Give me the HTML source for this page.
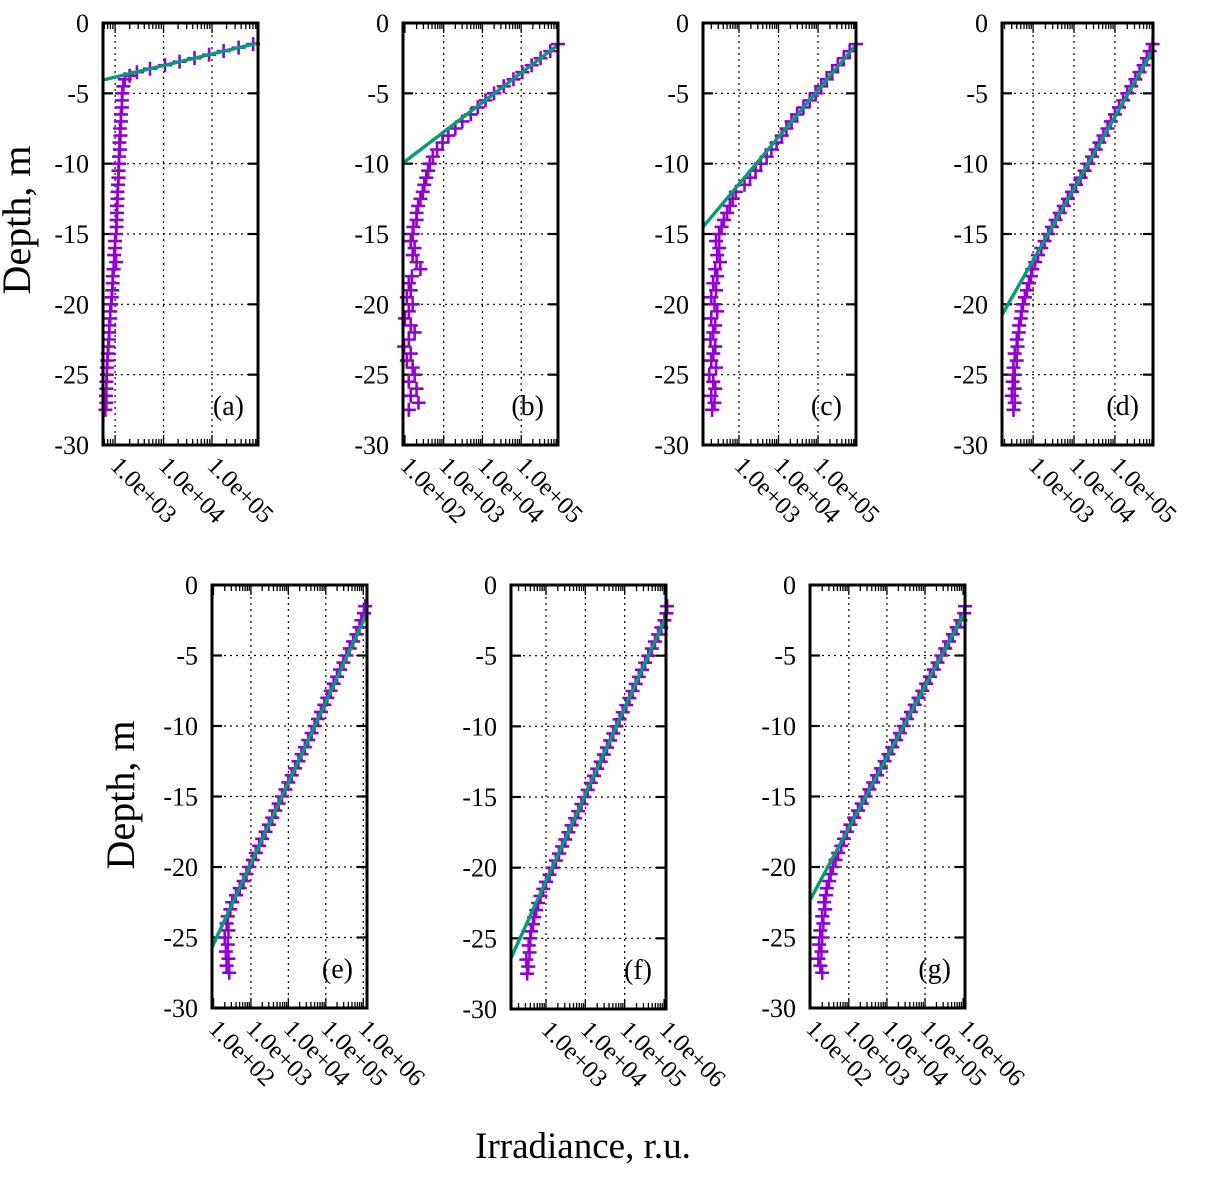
<!DOCTYPE html>
<html><head><meta charset="utf-8"><style>
html,body{margin:0;padding:0;background:#fff}
svg{display:block;font-family:"Liberation Serif",serif}
</style></head><body>
<svg id="chart" width="1207" height="1181" viewBox="0 0 1207 1181" xmlns="http://www.w3.org/2000/svg">
<text x="0" y="0" transform="translate(30,220) rotate(-90)" text-anchor="middle" font-size="40">Depth, m</text>
<text x="0" y="0" transform="translate(134,795) rotate(-90)" text-anchor="middle" font-size="40">Depth, m</text>
<text x="583" y="1158" text-anchor="middle" font-size="37">Irradiance, r.u.</text>
</svg>
<script>
const depths = [1.5,2,2.5,3,3.5,4,4.5,5,5.5,6,6.5,7,7.5,8,8.5,9,9.5,10,10.5,11,11.5,12,12.5,13,13.5,14,14.5,15,15.5,16,16.5,17,17.5,18,18.5,19,19.5,20,20.5,21,21.5,22,22.5,23,23.5,24,24.5,25,25.5,26,26.5,27,27.5];
const logA = [5.85,5.24,4.64,4.03,3.45,3.2,3.17,3.15,3.14,3.14,3.12,3.12,3.1,3.11,3.09,3.1,3.08,3.08,3.07,3.07,3.06,3.05,3.05,3.04,3.04,3.03,3.03,3.02,3.0,3.0,2.98,3.02,2.97,2.95,2.95,2.94,2.93,2.92,2.9,2.9,2.88,2.88,2.87,2.86,2.85,2.84,2.83,2.83,2.82,2.82,2.81,2.82,2.8];
const extraDepthA = [1.75,2.25,2.75,3.25,3.75];
const extraLogA = [5.55,4.94,4.33,3.72,3.3];
const logB = [5.95,5.75,5.5,5.27,5.03,4.8,4.55,4.3,4.08,3.88,3.7,3.48,3.3,3.12,2.97,2.83,2.72,2.64,2.6,2.55,2.5,2.46,2.4,2.34,2.3,2.3,2.22,2.2,2.15,2.25,2.2,2.3,2.4,2.18,2.1,2.15,2.05,2.2,2.1,2.0,2.15,2.25,2.1,1.98,2.15,2.05,2.2,2.25,2.1,2.3,2.15,2.35,2.1];
const logC = [5.96,5.8,5.65,5.5,5.36,5.22,5.08,4.94,4.79,4.63,4.47,4.33,4.2,4.08,3.95,3.82,3.7,3.55,3.42,3.28,3.14,2.92,2.84,2.77,2.7,2.62,2.56,2.5,2.42,2.5,2.45,2.52,2.4,2.45,2.35,2.42,2.3,2.38,2.45,2.3,2.4,2.35,2.28,2.4,2.35,2.3,2.42,2.25,2.35,2.4,2.3,2.38,2.32];
const logD = [5.92,5.85,5.78,5.7,5.6,5.5,5.4,5.3,5.2,5.1,5.0,4.9,4.82,4.72,4.62,4.53,4.44,4.35,4.26,4.16,4.05,3.95,3.85,3.75,3.65,3.55,3.46,3.37,3.28,3.2,3.12,3.05,2.98,2.95,2.9,2.85,2.8,2.75,2.72,2.7,2.66,2.65,2.6,2.62,2.55,2.6,2.52,2.55,2.5,2.55,2.48,2.55,2.52];
const logE = [6.05,6.02,5.95,5.9,5.82,5.73,5.64,5.55,5.47,5.38,5.3,5.21,5.13,5.04,4.96,4.87,4.79,4.7,4.62,4.53,4.44,4.35,4.27,4.18,4.09,4.0,3.92,3.83,3.74,3.65,3.57,3.48,3.39,3.3,3.22,3.13,3.05,2.96,2.88,2.8,2.7,2.6,2.5,2.45,2.38,2.35,2.4,2.3,2.38,2.33,2.4,2.35,2.42];
const logF = [6.08,6.06,6.01,5.93,5.85,5.77,5.69,5.6,5.52,5.44,5.36,5.28,5.2,5.12,5.04,4.95,4.87,4.79,4.71,4.63,4.55,4.47,4.39,4.3,4.22,4.14,4.06,3.98,3.9,3.82,3.74,3.65,3.57,3.49,3.41,3.33,3.25,3.17,3.09,3.0,2.93,2.86,2.8,2.75,2.7,2.67,2.62,2.6,2.56,2.58,2.5,2.55,2.52];
const logG = [6.05,6.03,5.93,5.83,5.73,5.63,5.53,5.43,5.33,5.23,5.13,5.03,4.93,4.83,4.73,4.63,4.53,4.44,4.34,4.24,4.14,4.04,3.94,3.84,3.74,3.64,3.54,3.44,3.34,3.24,3.14,3.04,2.95,2.87,2.8,2.72,2.65,2.58,2.52,2.48,2.42,2.4,2.35,2.38,2.3,2.33,2.25,2.3,2.22,2.28,2.2,2.25,2.3];
// fitted lines: [depthTop, logTop, depthBottom, logBottom]
const fitA = [1.42,5.95,4.05,2.75];
const fitB = [1.56,5.95,9.95,1.95];
const fitC = [1.56,5.96,14.5,2.09];
const fitD = [1.92,5.93,20.75,2.24];
const fitE = [2.0,6.1,25.7,1.96];
const fitF = [2.27,6.05,26.4,2.11];
const fitG = [1.9,6.05,22.35,1.98];
const yTicks = [0,-5,-10,-15,-20,-25,-30];
const xTickLabels = ["1.0e+02","1.0e+03","1.0e+04","1.0e+05","1.0e+06"];
const xTickExps = [2,3,4,5,6];
const panelNames = ["(a)","(b)","(c)","(d)","(e)","(f)","(g)"];

const NS="http://www.w3.org/2000/svg";
const svg=document.getElementById('chart');
function mk(tag,attrs,parent){const e=document.createElementNS(NS,tag);for(const k in attrs)e.setAttribute(k,attrs[k]);(parent||svg).appendChild(e);return e;}

const panels=[
 {L:103,R:258,T:23,B:445,xmin:2.75,xmax:5.95,data:logA,fit:fitA,exD:extraDepthA,exL:extraLogA},
 {L:403,R:558,T:23,B:445,xmin:1.95,xmax:5.95,data:logB,fit:fitB},
 {L:703,R:856,T:23,B:445,xmin:2.09,xmax:5.96,data:logC,fit:fitC},
 {L:1002,R:1153,T:23,B:445,xmin:2.24,xmax:5.93,data:logD,fit:fitD},
 {L:212,R:367,T:585,B:1008,xmin:1.96,xmax:6.1,data:logE,fit:fitE},
 {L:511,R:666,T:585,B:1009,xmin:2.11,xmax:6.05,data:logF,fit:fitF},
 {L:810,R:965,T:585,B:1008,xmin:1.98,xmax:6.05,data:logG,fit:fitG}
];

panels.forEach((p,i)=>{
  const g=mk('g',{});
  
  
  const xs=v=>p.L+(v-p.xmin)/(p.xmax-p.xmin)*(p.R-p.L);
  const ys=d=>p.T+(d/30)*(p.B-p.T);
  yTicks.forEach(t=>{
    const y=ys(-t);
    if(t!==0&&t!==-30){
      const gl=mk('line',{x1:p.L,x2:p.R,y1:y,y2:y,stroke:'#000','stroke-width':1.2,'stroke-dasharray':'2,4'},g);
      
      
      mk('line',{x1:p.L,x2:p.L+10,y1:y,y2:y,stroke:'#000','stroke-width':2.2},g);
      mk('line',{x1:p.R-10,x2:p.R,y1:y,y2:y,stroke:'#000','stroke-width':2.2},g);
    }
    const tl=mk('text',{x:p.L-14,y:y+9,'text-anchor':'end','font-size':26},g);
    
    
    tl.textContent=String(t);
  });
  for(let e=Math.floor(p.xmin);e<=Math.ceil(p.xmax);e++){
    for(let m=1;m<10;m++){
      const v=e+Math.log10(m);
      if(v<p.xmin-0.001||v>p.xmax+0.001)continue;
      const x=xs(v);
      const len=m===1?10:6;
      mk('line',{x1:x,x2:x,y1:p.B,y2:p.B-len,stroke:'#000','stroke-width':1.3},g);
      mk('line',{x1:x,x2:x,y1:p.T,y2:p.T+len,stroke:'#000','stroke-width':1.3},g);
    }
  }
  xTickExps.forEach((e,k)=>{
    if(e<p.xmin-0.06||e>p.xmax+0.02)return;
    const x=xs(e);
    if(x>p.L+3&&x<p.R-3){
      const gl=mk('line',{x1:x,x2:x,y1:p.T,y2:p.B,stroke:'#000','stroke-width':1.2,'stroke-dasharray':'2,4'},g);
      
      
    }
    const tl=mk('text',{x:0,y:0,transform:`translate(${x-6},${p.B+22}) rotate(45)`,'font-size':25},g);
    
    
    tl.textContent=xTickLabels[k];
  });
  const clip=mk('clipPath',{id:'clip'+i},g);
  mk('rect',{x:p.L-8,y:p.T,width:p.R-p.L+16,height:p.B-p.T},clip);
  const dg=mk('g',{'clip-path':`url(#clip${i})`},g);
  const drawPt=(v,d)=>{
    const x=xs(v),y=ys(d);
    const pt=mk('path',{d:`M${x-7},${y}H${x+7}M${x},${y-7}V${y+7}`,stroke:'#9400d3','stroke-width':2.6},dg);
    
    
  };
  p.data.forEach((v,k)=>drawPt(v,depths[k]));
  if(p.exD) p.exL.forEach((v,k)=>drawPt(v,p.exD[k]));
  const f=p.fit;
  const fl=mk('line',{x1:xs(f[1]),y1:ys(f[0]),x2:xs(f[3]),y2:ys(f[2]),stroke:'#009e73','stroke-width':3.4},g);
  
  
  const box=mk('rect',{x:p.L,y:p.T,width:p.R-p.L,height:p.B-p.T,fill:'none',stroke:'#000','stroke-width':3},g);
  
  
  const lab=mk('text',{x:p.R-14,y:p.B-30,'text-anchor':'end','font-size':28},g);
  
  
  lab.textContent=panelNames[i];
});
</script>
</body></html>
